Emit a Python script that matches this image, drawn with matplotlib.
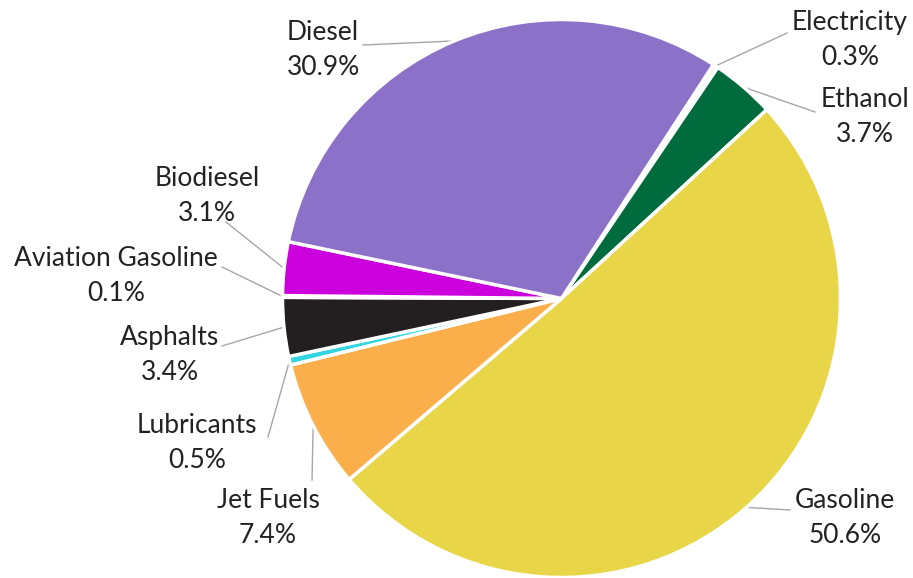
import numpy as np
import matplotlib
matplotlib.use("Agg")
import matplotlib.pyplot as plt

categories = ["Electricity", "Ethanol", "Gasoline", "Jet Fuels", "Lubricants",
              "Asphalts", "Aviation Gasoline", "Biodiesel", "Diesel"]
values = [0.3, 3.7, 50.6, 7.4, 0.5, 3.4, 0.1, 3.1, 30.9]
colors = ["#F4F4F4", "#006B3C", "#E8D548", "#FBAF4B", "#33D5E0",
          "#231F20", "#BFBFBF", "#CC00DD", "#8B72C8"]

# label text centres (pixels) and leader-line start points (pixels)
label_pos = {
    "Electricity": (850, 40), "Ethanol": (865, 117), "Gasoline": (845, 518),
    "Jet Fuels": (268, 518), "Lubricants": (197, 443), "Asphalts": (170, 355),
    "Aviation Gasoline": (116, 276), "Biodiesel": (207, 196), "Diesel": (323, 50),
}
leader_start = {
    "Electricity": (787, 33), "Ethanol": (815, 112), "Gasoline": (790, 510),
    "Jet Fuels": (312, 480), "Lubricants": (268, 437), "Asphalts": (222, 346),
    "Aviation Gasoline": (222, 267), "Biodiesel": (226, 222), "Diesel": (363, 45),
}

W, H = 913, 578
fig = plt.figure(figsize=(W / 100, H / 100), dpi=100)
ax = fig.add_axes([0, 0, 1, 1])

cx, cy, r = 561.5, H - 298.5, 279
start = 57
wedges, _ = ax.pie(values, colors=colors, startangle=start, counterclock=False,
                   center=(cx, cy), radius=r, frame=True,
                   wedgeprops=dict(edgecolor="white", linewidth=2.5))
ax.set_xlim(0, W)
ax.set_ylim(0, H)
ax.set_aspect("equal")
ax.axis("off")

font = "Lato"
for w, cat, v in zip(wedges, categories, values):
    mid = np.deg2rad((w.theta1 + w.theta2) / 2)
    ex, ey = cx + r * np.cos(mid), cy + r * np.sin(mid)
    sx, sy = leader_start[cat]
    ax.plot([sx, ex], [H - sy, ey], color="#A6A6A6", lw=1.0, zorder=0.5)
    tx, ty = label_pos[cat]
    ax.text(tx, H - ty, f"{cat}\n{v:.1f}%", ha="center", va="center",
            fontsize=19, family=font, color="#222222", linespacing=1.5)

fig.savefig("out.png", dpi=100)
